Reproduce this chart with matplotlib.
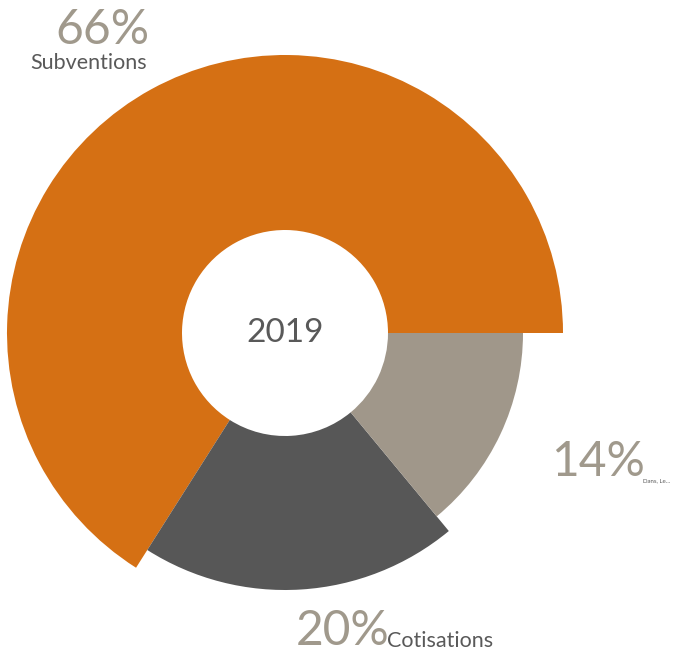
import numpy as np
import matplotlib.pyplot as plt

plt.rcParams['font.family'] = ['Lato', 'DejaVu Sans']

# donnees
labels = ['Subventions', 'Cotisations', 'Dans, Le…']
parts = [66, 20, 14]
outer = [278, 257, 238]  # rayon exterieur de chaque part (px)
inner = 103
colors = ['#D57014', '#575757', '#A0978A']
year = '2019'

W, H = 678, 668
fig = plt.figure(figsize=(W / 100, H / 100), dpi=100)
cx, cy, R = 285, 333, 280
ax = fig.add_axes([(cx - R) / W, (H - cy - R) / H, 2 * R / W, 2 * R / H], projection='polar')

fr = np.array(parts) / sum(parts)
widths = fr * 2 * np.pi
starts = np.concatenate([[0], np.cumsum(widths)[:-1]])
ax.bar(starts, np.array(outer) - inner, width=widths, bottom=inner,
       color=colors, align='edge', linewidth=0)
ax.set_ylim(0, R)
ax.set_axis_off()

ax.text(0, 0, year, ha='center', va='center', fontsize=24, color='#595959')

# etiquettes
pct_col = '#A0998C'
lab_col = '#595959'
fig.text(102 / W, 1 - 30 / H, f'{parts[0]}%', ha='center', va='center', fontsize=34.5, color=pct_col)
fig.text(89 / W, 1 - 63 / H, labels[0], ha='center', va='center', fontsize=15.5, color=lab_col)

fig.text(343 / W, 1 - 631 / H, f'{parts[1]}%', ha='center', va='center', fontsize=34.5, color=pct_col)
fig.text(387 / W, 1 - 641 / H, labels[1], ha='left', va='center', fontsize=15.5, color=lab_col)

fig.text(598 / W, 1 - 462 / H, f'{parts[2]}%', ha='center', va='center', fontsize=34.5, color=pct_col)
fig.text(643 / W, 1 - 481 / H, labels[2], ha='left', va='center', fontsize=4.4, color=lab_col)

fig.savefig('out.png', dpi=100)
